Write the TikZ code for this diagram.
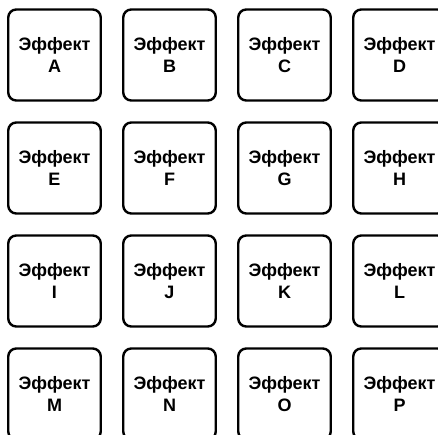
\documentclass[tikz,border=0pt]{standalone}
\usepackage{fontspec}
\setmainfont{Liberation Sans}
\usetikzlibrary{positioning}

\begin{document}
\begin{tikzpicture}[
        x=1pt, y=1pt,
        node distance=22pt and 22.5pt,
        pad/.style={rectangle, draw, line width=2.4pt, rounded corners=8pt,
            outer sep=0pt, minimum width=92.5pt, minimum height=91pt,
            align=center, font=\fontsize{18}{22.5}\selectfont\bfseries}
    ]
        \useasboundingbox (0,0) rectangle (438,-435);

        \node[pad] (A) at (54.5,-55) {Эффект\\A};
        \node[pad] (B) [right=of A] {Эффект\\B};
        \node[pad] (C) [right=of B] {Эффект\\C};
        \node[pad] (D) [right=of C] {Эффект\\D};

        \node[pad] (E) [below=of A] {Эффект\\E};
        \node[pad] (F) [right=of E] {Эффект\\F};
        \node[pad] (G) [right=of F] {Эффект\\G};
        \node[pad] (H) [right=of G] {Эффект\\H};

        \node[pad] (I) [below=of E] {Эффект\\I};
        \node[pad] (J) [right=of I] {Эффект\\J};
        \node[pad] (K) [right=of J] {Эффект\\K};
        \node[pad] (L) [right=of K] {Эффект\\L};

        \node[pad] (M) [below=of I] {Эффект\\M};
        \node[pad] (N) [right=of M] {Эффект\\N};
        \node[pad] (O) [right=of N] {Эффект\\O};
        \node[pad] (P) [right=of O] {Эффект\\P};
    \end{tikzpicture}
\end{document}
